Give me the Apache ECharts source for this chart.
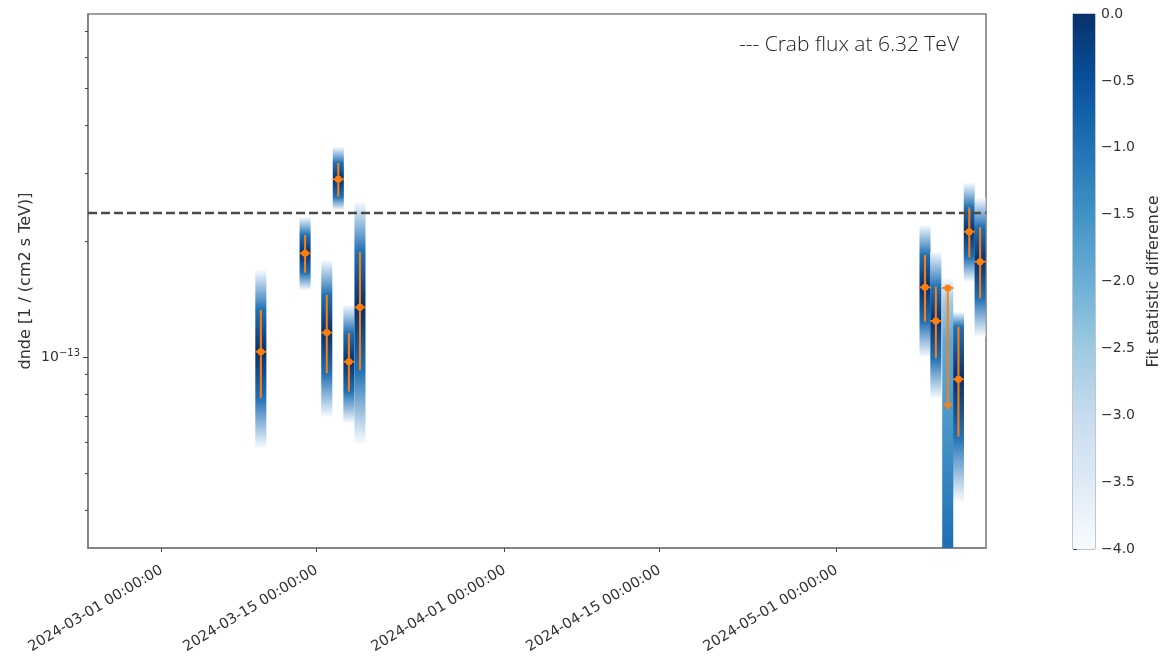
<!DOCTYPE html>
<html>
<head>
<meta charset="utf-8">
<script src="https://cdn.jsdelivr.net/npm/echarts@6/dist/echarts.min.js"></script>
<style>html,body{margin:0;padding:0;background:#fff}#c{width:1163px;height:658px}</style>
</head>
<body>
<div id="c"></div>
<script>
// ---- data ----
const times      = ['2024-03-09T23:00','2024-03-13T23:00','2024-03-15T22:00','2024-03-16T23:00','2024-03-17T22:00','2024-03-18T22:00','2024-05-08T23:30','2024-05-09T23:00','2024-05-12T00:00','2024-05-12T23:30','2024-05-13T23:00'];
const dnde       = [1.032e-13,1.859e-13,1.157e-13,2.894e-13,0.972e-13,1.346e-13,1.517e-13,1.240e-13,0.875e-13,2.116e-13,1.768e-13];
const dndeErrLo  = [0.782e-13,1.655e-13,0.907e-13,2.608e-13,0.813e-13,0.925e-13,1.235e-13,0.992e-13,0.621e-13,1.815e-13,1.420e-13];
const dndeErrHi  = [1.324e-13,2.074e-13,1.449e-13,3.190e-13,1.154e-13,1.877e-13,1.841e-13,1.523e-13,1.199e-13,2.448e-13,2.172e-13];
const profileLo  = [0.580e-13,1.493e-13,0.699e-13,2.409e-13,0.674e-13,0.598e-13,1.002e-13,0.782e-13,0.421e-13,1.569e-13,1.129e-13];
const profileHi  = [1.683e-13,2.310e-13,1.786e-13,3.512e-13,1.365e-13,2.532e-13,2.202e-13,1.877e-13,1.309e-13,2.831e-13,2.588e-13];
// fit statistic difference at [profileHi, errHi, dnde, errLo, profileLo]
const profileLevels = [-4, -1, 0, -1, -4];

// upper-limit bin
const ulTime = '2024-05-11T00:45';
const ulValue = 1.511e-13;
const ulArrowEnd = 0.736e-13;
const ulProfileNorm = [1.604e-13, 1.406e-13, 1.107e-13, 0.686e-13, 0.425e-13, 0.300e-13];
const ulProfileTS   = [-4, -2.6, -1.9, -1.6, -1.2, -0.9];

const crabFlux = 2.366e-13;

const xTickDates = ['2024-03-01T00:00','2024-03-15T00:00','2024-04-01T00:00','2024-04-15T00:00','2024-05-01T00:00'];
const yMinorTicks = [4e-14,5e-14,6e-14,7e-14,8e-14,9e-14,2e-13,3e-13,4e-13,5e-13,6e-13,7e-13];
const yMajorTicks = [1e-13];
const cbTicks = [-4,-3.5,-3,-2.5,-2,-1.5,-1,-0.5,0];

const xMin = '2024-02-23T08:10';
const xMax = '2024-05-14T11:45';
const yMin = 3.19e-14;
const yMax = 7.78e-13;

// ---- styling ----
const blues = ['#f7fbff','#deebf7','#c6dbef','#9ecae1','#6baed6','#4292c6','#2171b5','#08519c','#08306b'];
const orange = '#ff7f0e';
const halfBin = 0.5 * 86400000;
const T = s => new Date(s).getTime();

function hex2rgb(h){return [parseInt(h.slice(1,3),16),parseInt(h.slice(3,5),16),parseInt(h.slice(5,7),16)];}
function tsColor(ts){
  let f = (ts + 4) / 4; f = Math.max(0, Math.min(1, f));
  const p = f * (blues.length - 1); const i = Math.min(Math.floor(p), blues.length - 2); const r = p - i;
  const a = hex2rgb(blues[i]), b = hex2rgb(blues[i+1]);
  return 'rgb(' + a.map((v,k)=>Math.round(v + (b[k]-v)*r)).join(',') + ')';
}
function pad(n){return String(n).padStart(2,'0');}
function fmtDate(v){const d=new Date(v);return d.getFullYear()+'-'+pad(d.getMonth()+1)+'-'+pad(d.getDate())+' '+pad(d.getHours())+':'+pad(d.getMinutes())+':'+pad(d.getSeconds());}

function columnShape(api, t, norms, levels){
  const xl = api.coord([t - halfBin, norms[0]])[0];
  const xr = api.coord([t + halfBin, norms[0]])[0];
  const ys = norms.map(n => api.coord([t, n])[1]);
  const y0 = Math.min.apply(null, ys), y1 = Math.max.apply(null, ys);
  const stops = ys.map((y, k) => ({offset: (y - y0) / (y1 - y0), color: tsColor(levels[k])}));
  stops.sort((a,b)=>a.offset-b.offset);
  return {
    type: 'rect',
    shape: {x: xl, y: y0, width: xr - xl, height: y1 - y0},
    style: {fill: new echarts.graphic.LinearGradient(0,0,0,1,stops)}
  };
}

const profileData = times.map((s,i)=>[T(s), profileHi[i], dndeErrHi[i], dnde[i], dndeErrLo[i], profileLo[i]]);
const pointData = times.map((s,i)=>[T(s), dnde[i], dndeErrLo[i], dndeErrHi[i]]);

const chart = echarts.init(document.getElementById('c'), null, {renderer:'canvas'});
const font = 'DejaVu Sans';
chart.setOption({
  animation: false,
  backgroundColor: '#fff',
  title: {
    text: '--- Crab flux at 6.32 TeV', right: 199, top: 30,
    textStyle: {fontFamily: 'Open Sans', fontWeight: 300, fontSize: 21, color: '#222'}
  },
  grid: [
    {left: 88, top: 14, width: 898, height: 534, show: true, borderColor: '#7f7f7f', borderWidth: 1.6},
    {left: 1073, top: 14, width: 25, height: 535, show: true, borderColor: '#8c8c8c', borderWidth: 1}
  ],
  xAxis: [
    {
      type: 'value', gridIndex: 0, min: T(xMin), max: T(xMax),
      axisLine: {show: true, lineStyle: {color: '#7f7f7f', width: 1.6}},
      axisTick: {show: true, customValues: xTickDates.map(T), length: 4, lineStyle: {color: '#444'}},
      axisLabel: {customValues: xTickDates.map(T), rotate: 31, formatter: fmtDate, fontFamily: font, fontSize: 14.5, color: '#333', margin: 21, hideOverlap: false},
      splitLine: {show: false}, minorTick: {show: false}
    },
    {type: 'value', gridIndex: 1, min: 0, max: 1, show: false}
  ],
  yAxis: [
    {
      type: 'log', logBase: 10, gridIndex: 0, min: yMin, max: yMax,
      axisLine: {show: true, lineStyle: {color: '#7f7f7f', width: 1.6}},
      axisTick: {show: true, customValues: yMinorTicks, length: 3, lineStyle: {color: '#444'}},
      axisLabel: {show: false},
      splitLine: {show: false},
      name: 'dnde [1 / (cm2 s TeV)]', nameLocation: 'middle', nameGap: 54, nameRotate: 90,
      nameTextStyle: {fontFamily: font, fontSize: 16, color: '#333'}
    },
    {
      type: 'log', logBase: 10, gridIndex: 0, min: yMin, max: yMax, position: 'left',
      axisLine: {show: false},
      axisTick: {show: true, customValues: yMajorTicks, length: 5, lineStyle: {color: '#444'}},
      axisLabel: {
        customValues: yMajorTicks, formatter: () => '{b|10}{s|\u221213}', margin: 8,
        rich: {
          b: {fontFamily: font, fontSize: 14, color: '#333'},
          s: {fontFamily: font, fontSize: 10, color: '#333', padding: [0,0,8,0]}
        }
      },
      splitLine: {show: false}
    },
    {
      type: 'value', gridIndex: 1, min: -4, max: 0, interval: 0.5, position: 'right',
      axisLine: {show: true, lineStyle: {color: '#8c8c8c', width: 1}},
      axisTick: {show: true, length: 4, lineStyle: {color: '#444'}},
      axisLabel: {formatter: v => (v < 0 ? '\u2212' : '') + Math.abs(v).toFixed(1), fontFamily: font, fontSize: 14, color: '#333', margin: 6},
      splitLine: {show: false},
      name: 'Fit statistic difference', nameLocation: 'middle', nameGap: 51, nameRotate: 90,
      nameTextStyle: {fontFamily: font, fontSize: 16, color: '#333'}
    }
  ],
  series: [
    {
      type: 'custom', name: 'profile', xAxisIndex: 0, yAxisIndex: 0, clip: true, z: 1,
      data: profileData,
      encode: {x: 0, y: [1,2,3,4,5]},
      renderItem: (params, api) => {
        const t = api.value(0);
        const norms = [api.value(1), api.value(2), api.value(3), api.value(4), api.value(5)];
        return columnShape(api, t, norms, profileLevels);
      }
    },
    {
      type: 'custom', name: 'ulprofile', xAxisIndex: 0, yAxisIndex: 0, clip: true, z: 1,
      data: [[T(ulTime)].concat(ulProfileNorm)],
      encode: {x: 0, y: [1,2,3,4,5,6]},
      renderItem: (params, api) => {
        const t = api.value(0);
        const norms = ulProfileNorm.map((n,k)=>api.value(k+1));
        return columnShape(api, t, norms, ulProfileTS);
      }
    },
    {
      type: 'line', name: 'crab', xAxisIndex: 0, yAxisIndex: 0, z: 2,
      data: [[T(xMin), crabFlux], [T(xMax), crabFlux]],
      symbol: 'none', silent: true,
      lineStyle: {type: [9,4], width: 2.6, color: '#4a4a4a'}
    },
    {
      type: 'custom', name: 'points', xAxisIndex: 0, yAxisIndex: 0, clip: true, z: 3,
      data: pointData,
      encode: {x: 0, y: [1,2,3]},
      renderItem: (params, api) => {
        const t = api.value(0);
        const c = api.coord([t, api.value(1)]);
        const lo = api.coord([t, api.value(2)]);
        const hi = api.coord([t, api.value(3)]);
        const xl = api.coord([t - halfBin, api.value(1)])[0];
        const xr = api.coord([t + halfBin, api.value(1)])[0];
        const ls = {stroke: orange, lineWidth: 2};
        return {type: 'group', children: [
          {type: 'line', shape: {x1: c[0], y1: lo[1], x2: c[0], y2: hi[1]}, style: ls},
          {type: 'line', shape: {x1: xl, y1: c[1], x2: xr, y2: c[1]}, style: ls},
          {type: 'circle', shape: {cx: c[0], cy: c[1], r: 3.5}, style: {fill: orange}}
        ]};
      }
    },
    {
      type: 'custom', name: 'ul', xAxisIndex: 0, yAxisIndex: 0, clip: true, z: 3,
      data: [[T(ulTime), ulValue, ulArrowEnd]],
      encode: {x: 0, y: [1,2]},
      renderItem: (params, api) => {
        const t = api.value(0);
        const c = api.coord([t, api.value(1)]);
        const e = api.coord([t, api.value(2)]);
        const xl = api.coord([t - halfBin, api.value(1)])[0];
        const xr = api.coord([t + halfBin, api.value(1)])[0];
        const ls = {stroke: orange, lineWidth: 2};
        return {type: 'group', children: [
          {type: 'line', shape: {x1: c[0], y1: c[1], x2: e[0], y2: e[1]}, style: ls},
          {type: 'line', shape: {x1: xl, y1: c[1], x2: xr, y2: c[1]}, style: ls},
          {type: 'circle', shape: {cx: c[0], cy: c[1], r: 3.5}, style: {fill: orange}},
          {type: 'polygon', shape: {points: [[e[0]-4.5, e[1]-5], [e[0]+4.5, e[1]-5], [e[0], e[1]+2]]}, style: {fill: orange}}
        ]};
      }
    },
    {
      type: 'custom', name: 'colorbar', xAxisIndex: 1, yAxisIndex: 2, z: 1,
      data: [[0, cbTicks[0], 1, cbTicks[cbTicks.length-1]]],
      encode: {x: [0,2], y: [1,3]},
      renderItem: (params, api) => {
        const p0 = api.coord([api.value(0), api.value(1)]);
        const p1 = api.coord([api.value(2), api.value(3)]);
        const stops = blues.map((col,k)=>({offset: k/(blues.length-1), color: col}));
        return {type: 'rect', shape: {x: p0[0], y: p1[1], width: p1[0]-p0[0], height: p0[1]-p1[1]},
                style: {fill: new echarts.graphic.LinearGradient(0,1,0,0,stops)}};
      }
    }
  ]
});
</script>
</body>
</html>
